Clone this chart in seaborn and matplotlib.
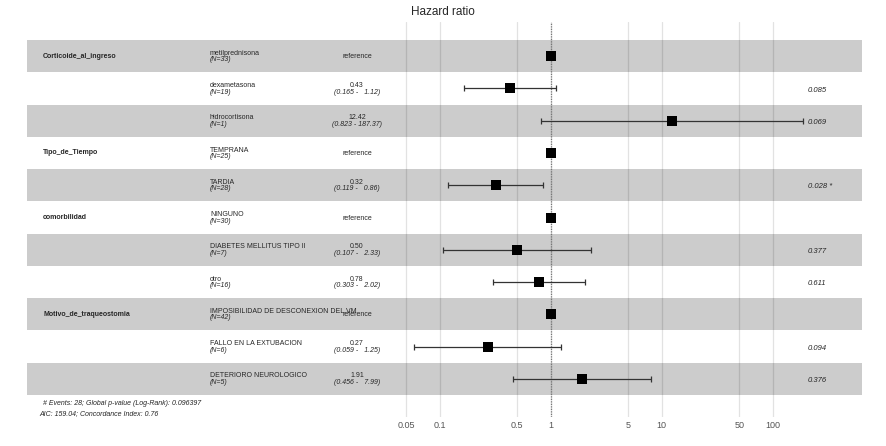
import numpy as np
import matplotlib
matplotlib.use("Agg")
import matplotlib.pyplot as plt
import seaborn as sns
from matplotlib.transforms import blended_transform_factory

# datos del forest plot (modelo de Cox)
variables = ["Corticoide_al_ingreso", "", "", "Tipo_de_Tiempo", "", "comorbilidad", "", "",
             "Motivo_de_traqueostomia", "", ""]
niveles = ["metilprednisona", "dexametasona", "hidrocortisona", "TEMPRANA", "TARDIA",
           "NINGUNO", "DIABETES MELLITUS TIPO II", "otro",
           "IMPOSIBILIDAD DE DESCONEXION DEL VM", "FALLO EN LA EXTUBACION", "DETERIORO NEUROLOGICO"]
n_obs = [33, 19, 1, 25, 28, 30, 7, 16, 42, 6, 5]
hr = [1, 0.43, 12.42, 1, 0.32, 1, 0.50, 0.78, 1, 0.27, 1.91]
ic_inf = [np.nan, 0.165, 0.823, np.nan, 0.119, np.nan, 0.107, 0.303, np.nan, 0.059, 0.456]
ic_sup = [np.nan, 1.12, 187.37, np.nan, 0.86, np.nan, 2.33, 2.02, np.nan, 1.25, 7.99]
es_ref = [True, False, False, True, False, True, False, False, True, False, False]
p_txt = ["", "0.085", "0.069", "", "0.028 *", "", "0.377", "0.611", "", "0.094", "0.376"]
ticks = [0.05, 0.1, 0.5, 1, 5, 10, 50, 100]
tick_lab = ["0.05", "0.1", "0.5", "1", "5", "10", "50", "100"]
nota1 = "# Events: 28; Global p-value (Log-Rank): 0.096397"
nota2 = "AIC: 159.04; Concordance Index: 0.76"

sns.set_style("white")
plt.rcParams['font.family'] = ['Liberation Sans', 'DejaVu Sans']

W, H = 886, 446
fig = plt.figure(figsize=(W / 100, H / 100), dpi=100)
# eje en pixeles: x 27..862, y 22..417
ax = fig.add_axes([27 / W, 1 - 417 / H, 835 / W, 395 / H])

n = len(niveles)
ypos = np.arange(n)[::-1]  # fila 0 arriba
fila_px = 355 / n
ax.set_ylim(-0.5 - 22 / fila_px, n - 0.5 + 18 / fila_px)

# escala log: 1 decada = 111 px, x=1 en px 550.7
ax.set_xscale("log")
ax.set_xlim(10 ** ((27 - 550.7) / 111), 10 ** ((862 - 550.7) / 111))

for t in ticks:
    ax.axvline(t, color="#e2e2e2", lw=0.9, zorder=0)
ax.axvline(1, color="#777777", lw=0.9, ls=(0, (1, 1)), zorder=4)

for i, y in enumerate(ypos):
    if i % 2 == 0:
        ax.axhspan(y - 0.5, y + 0.5, color="black", alpha=0.2, lw=0, zorder=1)

# intervalos de confianza
h = np.array(hr)
ci_mask = ~np.isnan(np.array(ic_inf))
lo_err = h - np.array(ic_inf)
hi_err = np.array(ic_sup) - h
ax.errorbar(h[ci_mask], ypos[ci_mask], xerr=[lo_err[ci_mask], hi_err[ci_mask]],
            fmt="none", ecolor="#333333", elinewidth=0.9, capsize=2, capthick=0.9, zorder=5)
sns.scatterplot(x=hr, y=ypos, ax=ax, marker="s", s=62, color="black",
                edgecolor="black", linewidth=0, zorder=6, legend=False)

def fx(px):
    return (px - 27) / 835

trx = blended_transform_factory(ax.transAxes, ax.transData)
d_up = 2.9 / fila_px
d_dn = 3.6 / fila_px
fs = 5
for i, y in enumerate(ypos):
    if variables[i]:
        ax.text(fx(43), y, variables[i], transform=trx, ha="left", va="center",
                fontsize=fs, fontweight="bold")
    ax.text(fx(210), y + d_up, niveles[i], transform=trx, ha="left", va="center", fontsize=fs)
    ax.text(fx(210), y - d_dn, "(N=%d)" % n_obs[i], transform=trx, ha="left", va="center",
            fontsize=fs, style="italic")
    if es_ref[i]:
        ax.text(fx(357), y - 0.02, "reference", transform=trx, ha="center", va="center", fontsize=fs)
    else:
        ax.text(fx(357), y + d_up, "%.2f" % hr[i], transform=trx, ha="center", va="center", fontsize=fs)
        ax.text(fx(357), y - d_dn, "(%.3f - %6.2f)" % (ic_inf[i], ic_sup[i]),
                transform=trx, ha="center", va="center", fontsize=fs, style="italic")
    if p_txt[i]:
        ax.text(fx(808), y - 0.05, p_txt[i], transform=trx, ha="left", va="center",
                fontsize=5.5, style="italic")

ax.set_xticks(ticks)
ax.set_xticklabels(tick_lab)
ax.minorticks_off()
ax.tick_params(axis="x", length=0, pad=3, labelsize=6.5, labelcolor="#555555")
ax.set_yticks([])
for s in ax.spines.values():
    s.set_visible(False)

fig.text(0.5, 1 - 12 / H, "Hazard ratio", ha="center", va="center", fontsize=8.5)
fig.text(43 / W, 1 - 403.5 / H, nota1, ha="left", va="center", fontsize=5, style="italic")
fig.text(39 / W, 1 - 413.5 / H, nota2, ha="left", va="center", fontsize=5, style="italic")

fig.savefig("out.png", dpi=100)
